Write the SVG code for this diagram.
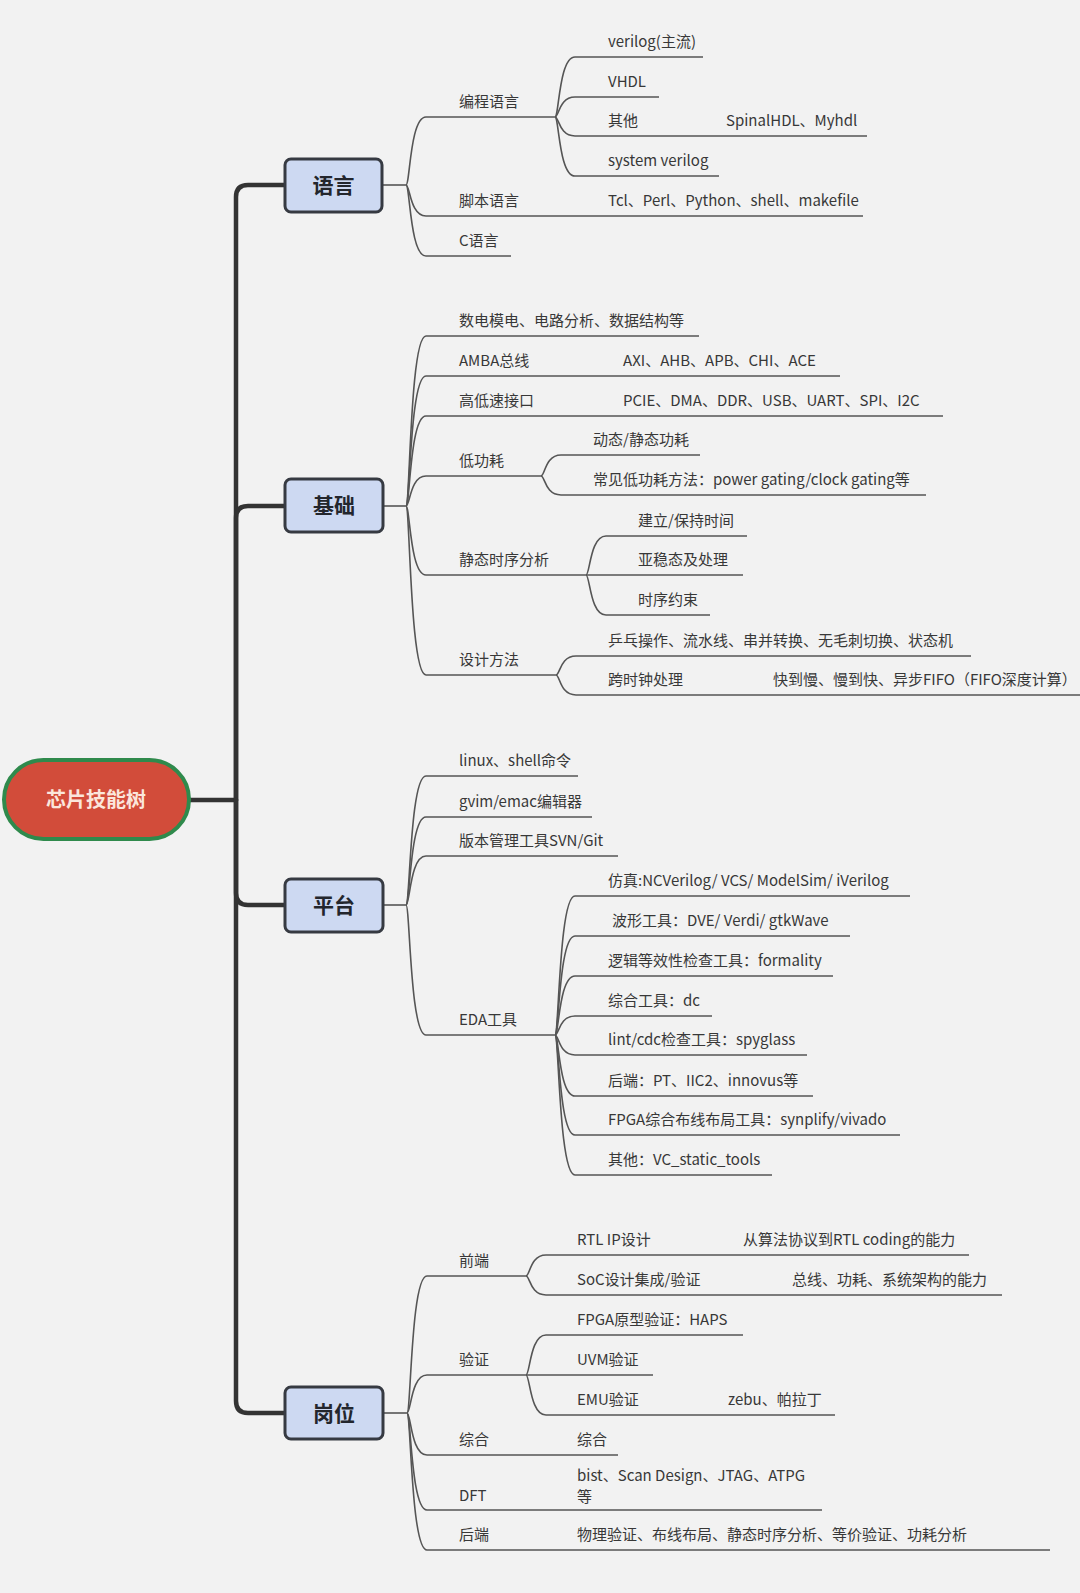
<svg xmlns="http://www.w3.org/2000/svg" width="1080" height="1593" viewBox="0 0 1080 1593">
<style>
.bg{fill:#f2f2f2}
.trunk{fill:none;stroke:#333;stroke-width:4.5;stroke-linecap:round;stroke-linejoin:round}
.ln{fill:none;stroke:#555;stroke-width:1.6}
.box{fill:#cdd9f2;stroke:#363a42;stroke-width:3}
.bt{font-family:"Noto Sans CJK SC","Noto Sans",sans-serif;font-size:21px;font-weight:bold;fill:#23262d;text-anchor:middle}
.rt{font-family:"Noto Sans CJK SC","Noto Sans",sans-serif;font-size:20px;font-weight:bold;fill:#fbe6dc;text-anchor:middle}
text.t{font-family:"Noto Sans CJK SC","Noto Sans",sans-serif;font-size:15px;fill:#383838}
</style>
<rect class="bg" x="0" y="0" width="1080" height="1593"/>

<g id="connectors">
  <!-- trunk -->
  <path class="trunk" d="M190,800 H236"/>
  <path class="trunk" d="M236,800 V197 Q236,185 248,185 H285"/>
  <path class="trunk" d="M236,800 V518 Q236,506 248,506 H285"/>
  <path class="trunk" d="M236,800 V893 Q236,905 248,905 H285"/>
  <path class="trunk" d="M236,800 V1401 Q236,1413 248,1413 H285"/>
  <!-- 语言 -->
  <path class="ln" d="M382,185 H406"/>
  <path class="ln" d="M406,185 C410,185 410,117 426,117 H555"/>
  <path class="ln" d="M555,117 C559,117 559,57 575,57 H703"/>
  <path class="ln" d="M555,117 C559,117 559,97 575,97 H659"/>
  <path class="ln" d="M555,117 C559,117 559,136 575,136 H867"/>
  <path class="ln" d="M555,117 C559,117 559,176 575,176 H719"/>
  <path class="ln" d="M406,185 C410,185 410,216 426,216 H863"/>
  <path class="ln" d="M406,185 C410,185 410,256 426,256 H511"/>
  <!-- 基础 -->
  <path class="ln" d="M383,506 H406"/>
  <path class="ln" d="M406,506 C410,506 410,336 426,336 H699"/>
  <path class="ln" d="M406,506 C410,506 410,376 426,376 H840"/>
  <path class="ln" d="M406,506 C410,506 410,416 426,416 H943"/>
  <path class="ln" d="M406,506 C410,506 410,476 426,476 H541"/>
  <path class="ln" d="M541,476 C545,476 545,455 561,455 H700"/>
  <path class="ln" d="M541,476 C545,476 545,495 561,495 H926"/>
  <path class="ln" d="M406,506 C410,506 410,575 426,575 H586"/>
  <path class="ln" d="M586,575 C590,575 590,536 606,536 H747"/>
  <path class="ln" d="M586,575 H743"/>
  <path class="ln" d="M586,575 C590,575 590,615 606,615 H710"/>
  <path class="ln" d="M406,506 C410,506 410,675 426,675 H556"/>
  <path class="ln" d="M556,675 C560,675 560,656 576,656 H971"/>
  <path class="ln" d="M556,675 C560,675 560,695 576,695 H1080"/>
  <!-- 平台 -->
  <path class="ln" d="M383,905 H406"/>
  <path class="ln" d="M406,905 C410,905 410,776 426,776 H578"/>
  <path class="ln" d="M406,905 C410,905 410,817 426,817 H592"/>
  <path class="ln" d="M406,905 C410,905 410,856 426,856 H618"/>
  <path class="ln" d="M406,905 C410,905 410,1035 426,1035 H555"/>
  <path class="ln" d="M555,1035 C559,1035 559,896 575,896 H910"/>
  <path class="ln" d="M555,1035 C559,1035 559,936 575,936 H850"/>
  <path class="ln" d="M555,1035 C559,1035 559,976 575,976 H833"/>
  <path class="ln" d="M555,1035 C559,1035 559,1016 575,1016 H712"/>
  <path class="ln" d="M555,1035 C559,1035 559,1055 575,1055 H807"/>
  <path class="ln" d="M555,1035 C559,1035 559,1096 575,1096 H813"/>
  <path class="ln" d="M555,1035 C559,1035 559,1135 575,1135 H900"/>
  <path class="ln" d="M555,1035 C559,1035 559,1175 575,1175 H772"/>
  <!-- 岗位 -->
  <path class="ln" d="M383,1413 H407"/>
  <path class="ln" d="M407,1413 C411,1413 411,1276 427,1276 H526"/>
  <path class="ln" d="M526,1276 C530,1276 530,1255 546,1255 H969"/>
  <path class="ln" d="M526,1276 C530,1276 530,1295 546,1295 H1002"/>
  <path class="ln" d="M407,1413 C411,1413 411,1375 427,1375 H526"/>
  <path class="ln" d="M526,1375 C530,1375 530,1335 546,1335 H743"/>
  <path class="ln" d="M526,1375 H653"/>
  <path class="ln" d="M526,1375 C530,1375 530,1415 546,1415 H835"/>
  <path class="ln" d="M407,1413 C411,1413 411,1455 427,1455 H618"/>
  <path class="ln" d="M407,1413 C411,1413 411,1510 427,1510 H822"/>
  <path class="ln" d="M407,1413 C411,1413 411,1550 427,1550 H1050"/>
</g>

<g id="node-root">
  <rect x="4" y="760" width="185" height="79" rx="39.5" fill="#d24c3a" stroke="#2f8a4c" stroke-width="4"/>
  <text class="rt" x="96" y="807">芯片技能树</text>
</g>

<g id="node-yuyan">
  <rect class="box" x="285" y="159" width="97" height="53" rx="6"/>
  <text class="bt" x="333.5" y="193">语言</text>
</g>
<g id="node-jichu">
  <rect class="box" x="285" y="479" width="98" height="53" rx="6"/>
  <text class="bt" x="334" y="513">基础</text>
</g>
<g id="node-pingtai">
  <rect class="box" x="285" y="879" width="98" height="53" rx="6"/>
  <text class="bt" x="334" y="913">平台</text>
</g>
<g id="node-gangwei">
  <rect class="box" x="285" y="1387" width="98" height="52" rx="6"/>
  <text class="bt" x="334" y="1421">岗位</text>
</g>

<!-- 语言 leaves -->
<g id="n-biancheng"><text class="t" x="459" y="107">编程语言</text></g>
<g id="n-verilog"><text class="t" x="608" y="47">verilog(主流)</text></g>
<g id="n-vhdl"><text class="t" x="608" y="87">VHDL</text></g>
<g id="n-qita1"><text class="t" x="608" y="126">其他</text><text class="t" x="726" y="126">SpinalHDL、Myhdl</text></g>
<g id="n-sv"><text class="t" x="608" y="166">system verilog</text></g>
<g id="n-jiaoben"><text class="t" x="459" y="206">脚本语言</text><text class="t" x="608" y="206">Tcl、Perl、Python、shell、makefile</text></g>
<g id="n-c"><text class="t" x="459" y="246">C语言</text></g>

<!-- 基础 leaves -->
<g id="n-shudian"><text class="t" x="459" y="326">数电模电、电路分析、数据结构等</text></g>
<g id="n-amba"><text class="t" x="459" y="366">AMBA总线</text><text class="t" x="623" y="366">AXI、AHB、APB、CHI、ACE</text></g>
<g id="n-gaodi"><text class="t" x="459" y="406">高低速接口</text><text class="t" x="623" y="406">PCIE、DMA、DDR、USB、UART、SPI、I2C</text></g>
<g id="n-digonghao"><text class="t" x="459" y="466">低功耗</text></g>
<g id="n-dongtai"><text class="t" x="593" y="445">动态/静态功耗</text></g>
<g id="n-changjian"><text class="t" x="593" y="485">常见低功耗方法：power gating/clock gating等</text></g>
<g id="n-sta"><text class="t" x="459" y="565">静态时序分析</text></g>
<g id="n-jianli"><text class="t" x="638" y="526">建立/保持时间</text></g>
<g id="n-yawen"><text class="t" x="638" y="565">亚稳态及处理</text></g>
<g id="n-yueshu"><text class="t" x="638" y="605">时序约束</text></g>
<g id="n-sheji"><text class="t" x="459" y="665">设计方法</text></g>
<g id="n-pingpang"><text class="t" x="608" y="646">乒乓操作、流水线、串并转换、无毛刺切换、状态机</text></g>
<g id="n-kuashizhong"><text class="t" x="608" y="685">跨时钟处理</text><text class="t" x="773" y="685">快到慢、慢到快、异步FIFO（FIFO深度计算）</text></g>

<!-- 平台 leaves -->
<g id="n-linux"><text class="t" x="459" y="766">linux、shell命令</text></g>
<g id="n-gvim"><text class="t" x="459" y="807">gvim/emac编辑器</text></g>
<g id="n-svn"><text class="t" x="459" y="846">版本管理工具SVN/Git</text></g>
<g id="n-eda"><text class="t" x="459" y="1025">EDA工具</text></g>
<g id="n-fangzhen"><text class="t" x="608" y="886">仿真:NCVerilog/ VCS/ ModelSim/ iVerilog</text></g>
<g id="n-boxing"><text class="t" x="612" y="926">波形工具：DVE/ Verdi/ gtkWave</text></g>
<g id="n-luoji"><text class="t" x="608" y="966">逻辑等效性检查工具：formality</text></g>
<g id="n-zonghegj"><text class="t" x="608" y="1006">综合工具：dc</text></g>
<g id="n-lint"><text class="t" x="608" y="1045">lint/cdc检查工具：spyglass</text></g>
<g id="n-houduan1"><text class="t" x="608" y="1086">后端：PT、IIC2、innovus等</text></g>
<g id="n-fpga1"><text class="t" x="608" y="1125">FPGA综合布线布局工具：synplify/vivado</text></g>
<g id="n-qita2"><text class="t" x="608" y="1165">其他：VC_static_tools</text></g>

<!-- 岗位 leaves -->
<g id="n-qianduan"><text class="t" x="459" y="1266">前端</text></g>
<g id="n-rtl"><text class="t" x="577" y="1245">RTL IP设计</text><text class="t" x="743" y="1245">从算法协议到RTL coding的能力</text></g>
<g id="n-soc"><text class="t" x="577" y="1285">SoC设计集成/验证</text><text class="t" x="792" y="1285">总线、功耗、系统架构的能力</text></g>
<g id="n-yanzheng"><text class="t" x="459" y="1365">验证</text></g>
<g id="n-fpga2"><text class="t" x="577" y="1325">FPGA原型验证：HAPS</text></g>
<g id="n-uvm"><text class="t" x="577" y="1365">UVM验证</text></g>
<g id="n-emu"><text class="t" x="577" y="1405">EMU验证</text><text class="t" x="728" y="1405">zebu、帕拉丁</text></g>
<g id="n-zonghe"><text class="t" x="459" y="1445">综合</text><text class="t" x="577" y="1445">综合</text></g>
<g id="n-dft"><text class="t" x="459" y="1501">DFT</text><text class="t" x="577" y="1481">bist、Scan Design、JTAG、ATPG<tspan x="577" dy="21">等</tspan></text></g>
<g id="n-houduan2"><text class="t" x="459" y="1540">后端</text><text class="t" x="577" y="1540">物理验证、布线布局、静态时序分析、等价验证、功耗分析</text></g>
</svg>
